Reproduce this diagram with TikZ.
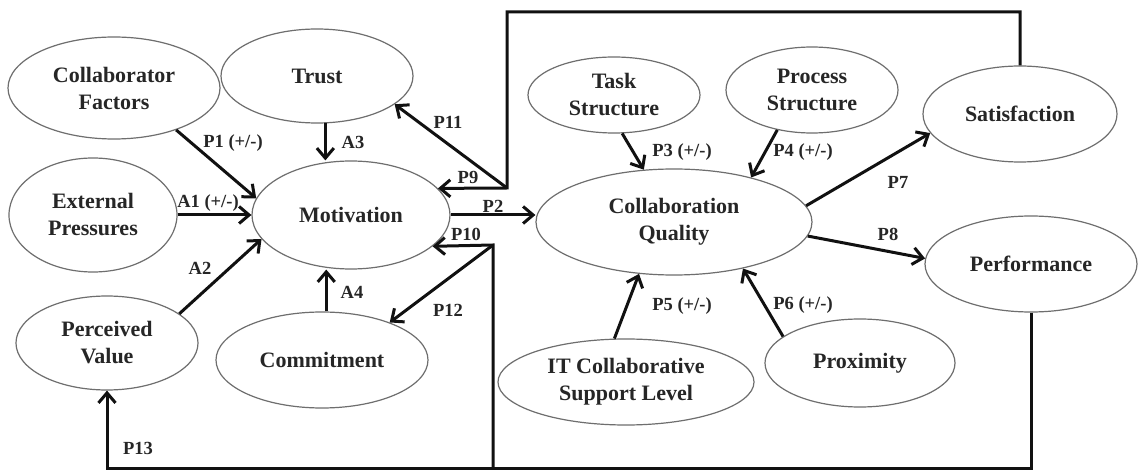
\documentclass[tikz,border=0pt]{standalone}
\usepackage{fontspec}
\setmainfont{Liberation Serif}
\usetikzlibrary{shapes.geometric,arrows.meta}
\definecolor{ink}{HTML}{111111}
\definecolor{ellgray}{HTML}{6E6E6E}
\definecolor{txt}{HTML}{262626}
\begin{document}
\begin{tikzpicture}[x=1pt,y=-1pt,
  construct/.style={ellipse, draw=ellgray, line width=1.2pt, inner sep=0pt,
    align=center, font=\fontsize{22}{27}\selectfont\bfseries, text=txt},
  link/.style={line width=3pt, draw=ink, -{Straight Barb[length=10pt,width=17pt]}},
  plain/.style={line width=3pt, draw=ink},
  tag/.style={font=\fontsize{18.5}{20}\selectfont\bfseries, text=txt, inner sep=0pt}
]
\useasboundingbox[fill=white] (0,0) rectangle (1141,470);

% constructs
\node[construct, minimum width=212pt, minimum height=102pt] (cf)    at (114,88)  {Collaborator\\Factors};
\node[construct, minimum width=192pt, minimum height=94pt]  (trust) at (317,76)  {Trust};
\node[construct, minimum width=168pt, minimum height=114pt] (ext)   at (93,215)  {External\\Pressures};
\node[construct, minimum width=182pt, minimum height=94pt]  (pv)    at (107,343) {Perceived\\Value};
\node[construct, minimum width=198pt, minimum height=108pt] (mot)   at (351,215) {Motivation};
\node[construct, minimum width=212pt, minimum height=96pt]  (com)   at (322,360) {Commitment};
\node[construct, minimum width=172pt, minimum height=76pt]  (task)  at (614,95)  {Task\\Structure};
\node[construct, minimum width=172pt, minimum height=86pt]  (proc)  at (812,90)  {Process\\Structure};
\node[construct, minimum width=276pt, minimum height=106pt] (cq)    at (674,222) {Collaboration\\Quality};
\node[construct, minimum width=194pt, minimum height=96pt]  (sat)   at (1020,114) {Satisfaction};
\node[construct, minimum width=212pt, minimum height=96pt]  (perf)  at (1031,264) {Performance};
\node[construct, minimum width=256pt, minimum height=86pt]  (it)    at (626,382) {IT Collaborative\\Support Level};
\node[construct, minimum width=190pt, minimum height=88pt]  (prox)  at (860,363) {Proximity};

% junctions of the feedback loops
\coordinate (j1)  at (507,188);
\coordinate (j2)  at (493,245);
\coordinate (top) at (507,12);
\coordinate (bot) at (493,468);

% antecedents of motivation
\draw[link] (cf.-34) -- (mot.170);
\draw[link] (ext.east) -- (mot.west);
\draw[link] (pv.22) -- (mot.195);
\draw[link] (trust.-80) -- (trust.-80 |- mot.north);
\draw[link] (com.85) -- (com.85 |- mot.south);

% motivation to collaboration quality
\draw[link] (mot.east) -- (mot.east -| cq.west);

% antecedents and outcomes of collaboration quality
\draw[link] (task.-78) -- (cq.120);
\draw[link] (proc.229) -- (cq.30);
\draw[link] (it.105) -- (cq.236);
\draw[link] (prox.161) -- (cq.-34);
\draw[link] (cq.7) -- (sat.192);
\draw[link] (cq.-6) -- (perf.177);

% satisfaction feedback
\draw[link] (sat.north) |- (top) -- (j1) -- (mot.17);
\draw[link] (j1) -- (trust.-20);

% performance feedback
\draw[link] (perf.south) |- (pv.south |- bot) -- (pv.south);
\draw[link] (bot) -- (j2) -- (mot.-21);
\draw[link] (j2) -- (com.29);

% path labels
\node[tag] (lP1)  at (233,143) {P1 (+/-)};
\node[tag] (lA1)  at (208,203) {A1 (+/-)};
\node[tag] (lA2)  at (200,268) {A2};
\node[tag] (lA3)  at (353,142) {A3};
\node[tag] (lA4)  at (352,292) {A4};
\node[tag] (lP11) at (448,122) {P11};
\node[tag] (lP9)  at (468,177) {P9};
\node[tag] (lP2)  at (493,206) {P2};
\node[tag] (lP10) at (466,234) {P10};
\node[tag] (lP12) at (448,310) {P12};
\node[tag] (lP13) at (138,448) {P13};
\node[tag] (lP3)  at (682,152) {P3 (+/-)};
\node[tag] (lP4)  at (803,152) {P4 (+/-)};
\node[tag] (lP7)  at (898,182) {P7};
\node[tag] (lP8)  at (888,234) {P8};
\node[tag] (lP5)  at (682,306) {P5 (+/-)};
\node[tag] (lP6)  at (803,305) {P6 (+/-)};
\end{tikzpicture}
\end{document}
